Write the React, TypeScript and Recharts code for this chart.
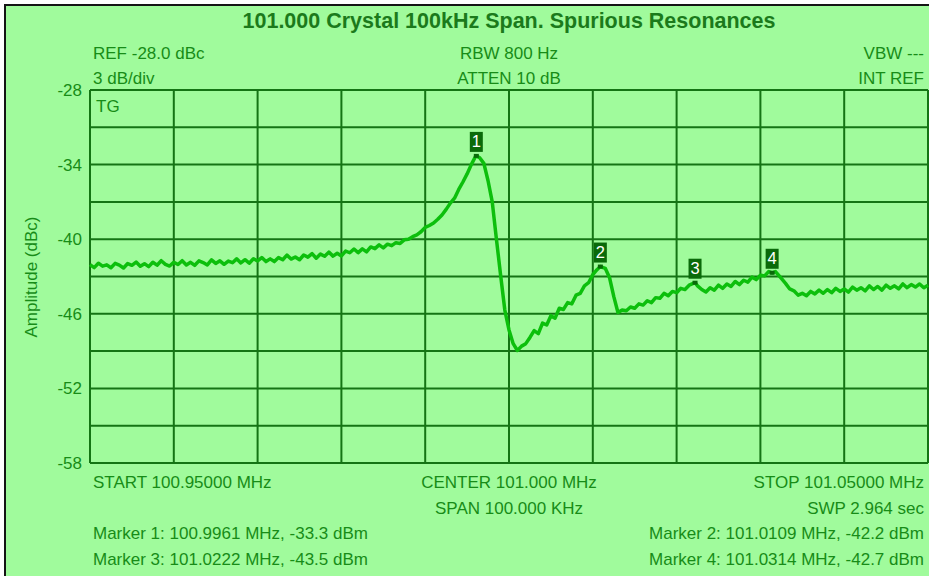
import React from 'react';
import { LineChart, Line, XAxis, YAxis, CartesianGrid, ReferenceDot } from 'recharts';

// sweep: [offset from center in kHz, level in dBc]
const trace: [number, number][] = [
  [-50, -42.05], [-49.5, -42.29], [-49, -41.93], [-48.5, -42.17], [-48, -42.06], [-47.5, -42.3], [-47, -41.94], [-46.5, -42.08], [-46, -42.32], [-45.5, -41.96],
  [-45, -42.1], [-44.5, -41.84], [-44, -42.18], [-43.5, -41.97], [-43, -42.21], [-42.5, -41.85], [-42, -42.09], [-41.5, -41.73], [-41, -42.02], [-40.5, -42.16],
  [-40, -41.85], [-39.5, -42.04], [-39, -41.73], [-38.5, -42.07], [-38, -41.86], [-37.5, -42.1], [-37, -41.74], [-36.5, -41.88], [-36, -42.07], [-35.5, -41.66],
  [-35, -41.95], [-34.5, -41.74], [-34, -42.02], [-33.5, -41.76], [-33, -41.89], [-32.5, -41.58], [-32, -41.91], [-31.5, -41.65], [-31, -41.93], [-30.5, -41.57],
  [-30, -41.75], [-29.5, -41.48], [-29, -41.8], [-28.5, -41.58], [-28, -41.8], [-27.5, -41.48], [-27, -41.65], [-26.5, -41.28], [-26, -41.6], [-25.5, -41.43],
  [-25, -41.65], [-24.5, -41.27], [-24, -41.44], [-23.5, -41.16], [-23, -41.53], [-22.5, -41.2], [-22, -41.37], [-21.5, -41.04], [-21, -41.36], [-20.5, -41.13],
  [-20, -41.35], [-19.5, -40.95], [-19, -41.09], [-18.5, -40.79], [-18, -41.08], [-17.5, -40.78], [-17, -41.02], [-16.5, -40.62], [-16, -40.76], [-15.5, -40.46],
  [-15, -40.7], [-14.5, -40.4], [-14, -40.52], [-13.5, -40.28], [-13, -40.35], [-12.5, -40.05], [-12, -40.0], [-11.5, -39.8], [-11, -39.65], [-10.5, -39.4],
  [-10, -39.05], [-9.5, -38.9], [-9, -38.7], [-8.5, -38.4], [-8, -38.05], [-7.5, -37.6], [-7, -37.1], [-6.5, -36.7], [-6, -36.0], [-5.5, -35.4],
  [-5, -34.75], [-4.5, -34.0], [-4, -33.35], [-3.9, -33.3], [-3.5, -33.45], [-3, -33.9], [-2.5, -35.3], [-2, -37.0], [-1.5, -40.0], [-1, -42.9],
  [-0.5, -45.7], [0, -47.3], [0.5, -48.4], [1, -48.95], [1.5, -48.6], [2, -48.4], [2.5, -47.9], [3, -47.35], [3.5, -47.6], [4, -46.75],
  [4.5, -46.9], [5, -46.15], [5.5, -46.35], [6, -45.55], [6.5, -45.65], [7, -45.1], [7.5, -45.2], [8, -44.5], [8.5, -44.35], [9, -43.75],
  [9.5, -43.5], [10, -42.85], [10.5, -42.45], [10.9, -42.2], [11.5, -42.35], [12, -43.1], [12.5, -44.6], [13, -45.9], [13.5, -45.7], [14, -45.75],
  [14.5, -45.45], [15, -45.55], [15.5, -45.2], [16, -45.3], [16.5, -44.95], [17, -45.1], [17.5, -44.7], [18, -44.75], [18.5, -44.35], [19, -44.55],
  [19.5, -44.2], [20, -44.3], [20.5, -43.95], [21, -44.05], [21.5, -43.7], [22.2, -43.5], [22.5, -43.75], [23, -44.05], [23.5, -44.25], [24, -43.9],
  [24.5, -44.1], [25, -43.7], [25.5, -43.95], [26, -43.6], [26.5, -43.8], [27, -43.4], [27.5, -43.65], [28, -43.3], [28.5, -43.45], [29, -43.05],
  [29.5, -43.25], [30, -42.9], [30.5, -42.95], [31, -42.6], [31.4, -42.7], [31.8, -42.6], [32.5, -43.15], [33, -43.55], [33.5, -44.0], [34, -44.15],
  [34.5, -44.5], [35, -44.35], [35.5, -44.55], [36, -44.2], [36.5, -44.4], [37, -44.1], [37.5, -44.35], [38, -44.05], [38.5, -44.3], [39, -43.95],
  [39.5, -44.2], [40, -44.0], [40.5, -44.25], [41, -43.85], [41.5, -44.1], [42, -43.9], [42.5, -44.15], [43, -43.75], [43.5, -44.05], [44, -43.8],
  [44.5, -44.1], [45, -43.7], [45.5, -43.95], [46, -43.75], [46.5, -44.0], [47, -43.6], [47.5, -43.9], [48, -43.65], [48.5, -43.85], [49, -43.6],
  [49.5, -43.9], [50, -43.7],
];

const markerIds = [1, 2, 3, 4];
const markerMHz = [100.9961, 101.0109, 101.0222, 101.0314];
const markerDbm = [-33.3, -42.2, -43.5, -42.7];

const xTicks = [-50, -40, -30, -20, -10, 0, 10, 20, 30, 40, 50];
const yTicks = [-58, -55, -52, -49, -46, -43, -40, -37, -34, -31, -28];
const yTickLabels = [-58, -52, -46, -40, -34, -28];

const TITLE = '101.000 Crystal 100kHz Span. Spurious Resonances';
const headerLeft = ['REF -28.0 dBc', '3 dB/div'];
const headerCenter = ['RBW 800 Hz', 'ATTEN 10 dB'];
const headerRight = ['VBW ---', 'INT REF'];
const footerCenter = ['CENTER 101.000 MHz', 'SPAN 100.000 KHz'];
const footerLeft = ['START 100.95000 MHz'];
const footerRight = ['STOP 101.05000 MHz', 'SWP 2.964 sec'];

const CENTER_MHZ = 101.0;
const BG = '#a0fb9c';
const GRID = '#147414';
const TEXT = '#178c17';
const TRACE = '#0cbf0c';
const FONT = '"Liberation Sans", Arial, sans-serif';

const data = trace.map(([khz, db]) => ({ khz, db }));

function markerText(i: number) {
  return `Marker ${markerIds[i]}: ${markerMHz[i].toFixed(4)} MHz, ${markerDbm[i].toFixed(1)} dBm`;
}

function MarkerFlag(props: any) {
  const { cx, cy, id } = props;
  if (cx == null || cy == null) return null;
  return (
    <g>
      <rect x={cx - 2.5} y={cy - 2} width={5} height={4} fill="#0a6a0a" />
      <rect x={cx - 6.5} y={cy - 24} width={13} height={20} fill="#0a6a0a" />
      <text x={cx} y={cy - 8.5} textAnchor="middle" fill="#ffffff" fontSize={16.5} fontFamily={FONT}>
        {id}
      </text>
    </g>
  );
}

export default function App() {
  const txt = { fill: TEXT, fontSize: 17, fontFamily: FONT };
  return (
    <div style={{ position: 'absolute', left: 0, top: 0, width: 929, height: 576, background: '#fff', overflow: 'hidden' }}>
      <div
        style={{
          position: 'absolute', left: 4, top: 4, width: 925, height: 572,
          borderTop: '2px solid #151515', borderLeft: '2px solid #151515', background: BG,
        }}
      />
      <div style={{ position: 'absolute', left: 0, top: 0 }}>
        <LineChart width={929} height={576} data={data} margin={{ top: 90, right: 1, bottom: 113, left: 0 }}>
          <CartesianGrid stroke={GRID} strokeWidth={2} verticalValues={xTicks} horizontalValues={yTicks} />
          <XAxis
            dataKey="khz"
            type="number"
            domain={[-50, 50]}
            ticks={xTicks}
            interval={0}
            tick={() => <g />}
            tickLine={false}
            axisLine={false}
            height={0}
          />
          <YAxis
            type="number"
            domain={[-58, -28]}
            ticks={yTicks}
            width={90}
            axisLine={false}
            tickLine={false}
            interval={0}
            tick={{ fill: TEXT, fontSize: 17, fontFamily: FONT }}
            tickFormatter={(v: number) => (yTickLabels.includes(v) ? String(v) : '')}
          />
          <Line
            type="linear"
            dataKey="db"
            stroke={TRACE}
            strokeWidth={3.5}
            strokeLinejoin="round"
            dot={false}
            isAnimationActive={false}
          />
          {markerIds.map((id, i) => (
            <ReferenceDot
              key={id}
              x={(markerMHz[i] - CENTER_MHZ) * 1000}
              y={markerDbm[i]}
              shape={(p: any) => <MarkerFlag {...p} id={id} />}
            />
          ))}
        </LineChart>
      </div>
      <svg width={929} height={576} style={{ position: 'absolute', left: 0, top: 0, pointerEvents: 'none' }}>
        <text x={509} y={28} textAnchor="middle" fill="#1b7a1b" fontSize={21.5} fontWeight="bold" fontFamily={FONT}>
          {TITLE}
        </text>
        {headerLeft.map((t, i) => (
          <text key={t} x={93} y={59 + i * 24.5} {...txt}>{t}</text>
        ))}
        {headerCenter.map((t, i) => (
          <text key={t} x={509} y={59 + i * 24.5} textAnchor="middle" {...txt}>{t}</text>
        ))}
        {headerRight.map((t, i) => (
          <text key={t} x={924} y={59 + i * 24.5} textAnchor="end" {...txt}>{t}</text>
        ))}
        <text x={96} y={112} {...txt}>TG</text>
        <text x={31} y={277} textAnchor="middle" dominantBaseline="central" transform="rotate(-90 31 277)" {...txt}>
          Amplitude (dBc)
        </text>
        {footerLeft.map((t, i) => (
          <text key={t} x={93} y={488 + i * 25.5} {...txt}>{t}</text>
        ))}
        {footerCenter.map((t, i) => (
          <text key={t} x={509} y={488 + i * 25.5} textAnchor="middle" {...txt}>{t}</text>
        ))}
        {footerRight.map((t, i) => (
          <text key={t} x={924} y={488 + i * 25.5} textAnchor="end" {...txt}>{t}</text>
        ))}
        <text x={93} y={539} {...txt}>{markerText(0)}</text>
        <text x={924} y={539} textAnchor="end" {...txt}>{markerText(1)}</text>
        <text x={93} y={564.5} {...txt}>{markerText(2)}</text>
        <text x={924} y={564.5} textAnchor="end" {...txt}>{markerText(3)}</text>
      </svg>
    </div>
  );
}
